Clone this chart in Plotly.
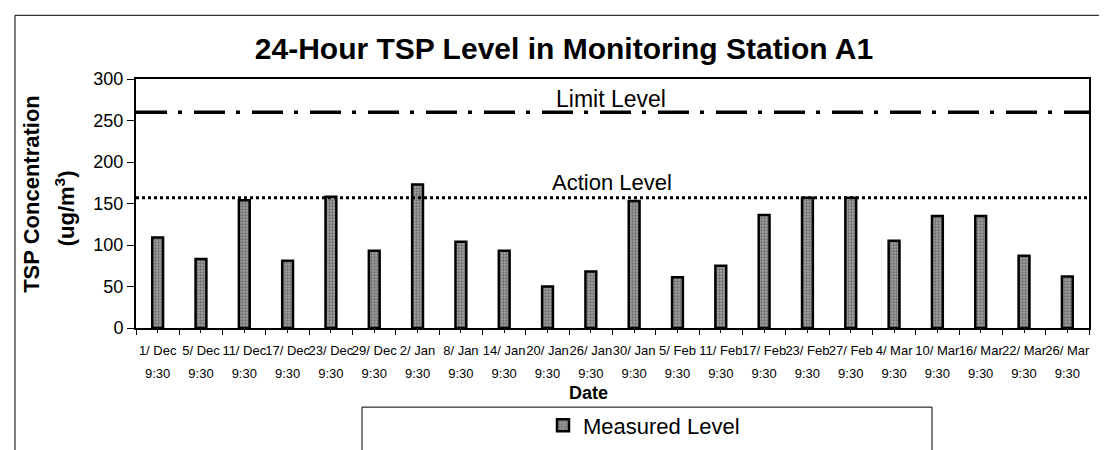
import plotly.graph_objects as go

dates = ["1/ Dec", "5/ Dec", "11/ Dec", "17/ Dec", "23/ Dec", "29/ Dec", "2/ Jan", "8/ Jan",
         "14/ Jan", "20/ Jan", "26/ Jan", "30/ Jan", "5/ Feb", "11/ Feb", "17/ Feb", "23/ Feb",
         "27/ Feb", "4/ Mar", "10/ Mar", "16/ Mar", "22/ Mar", "26/ Mar"]
time_label = "9:30"
measured = [109, 83, 154, 81, 158, 93, 173, 104, 93, 50, 68, 153, 61, 75, 136, 157, 157, 105, 135, 135, 87, 62]
limit_level = 260
action_level = 157
y_ticks = [0, 50, 100, 150, 200, 250, 300]

FONT = "Liberation Sans, Arial, sans-serif"
W, H = 1107, 450
L, R, T, B = 128, 1081, 71, 329


def px(x):
    return (x - L) / (R - L)


def py(y):
    return (B - y) / (B - T)


x_range = [-0.5, len(dates) - 0.5]

fig = go.Figure()
fig.add_trace(go.Bar(
    x=dates, y=measured, name="Measured Level",
    marker=dict(color="#a0a0a0", line=dict(color="black", width=2.5),
                pattern=dict(shape=".", fgcolor="#3a3a3a", size=3, solidity=0.45)),
))
# invisible companion trace so the second (time-of-day) x axis is drawn
fig.add_trace(go.Scatter(x=dates, y=measured, xaxis="x2", mode="markers",
                         marker=dict(opacity=0), showlegend=False, hoverinfo="skip"))

fig.add_shape(type="line", xref="paper", x0=0, x1=1, yref="y", y0=limit_level, y1=limit_level,
              line=dict(color="black", width=3.5, dash="31px,11px,4px,12px"))
fig.add_shape(type="line", xref="paper", x0=0, x1=1, yref="y", y0=action_level, y1=action_level,
              line=dict(color="black", width=3, dash="3px,3px"))

fig.add_annotation(text="Limit Level", xref="paper", x=px(546), xanchor="left", yref="paper", y=py(92),
                   yanchor="middle", showarrow=False, font=dict(size=23, family=FONT, color="black"))
fig.add_annotation(text="Action Level", xref="paper", x=px(542), xanchor="left", yref="paper", y=py(178),
                   yanchor="middle", showarrow=False, font=dict(size=22, family=FONT, color="black"))

# y-axis title (two lines, wide spacing as in the reference)
fig.add_annotation(text="<b>TSP Concentration</b>", xref="paper", x=px(24), yref="paper", y=py(190),
                   textangle=-90, showarrow=False, xanchor="center", yanchor="middle",
                   font=dict(size=22, family=FONT, color="black"))
fig.add_annotation(text="<b>(ug/m<sup>3</sup>)</b>", xref="paper", x=px(57), yref="paper", y=py(205),
                   textangle=-90, showarrow=False, xanchor="center", yanchor="middle",
                   font=dict(size=22, family=FONT, color="black"))
# x-axis title
fig.add_annotation(text="<b>Date</b>", xref="paper", x=px(580), yref="paper", y=py(396),
                   showarrow=False, xanchor="center", yanchor="middle",
                   font=dict(size=18, family=FONT, color="black"))

# legend box and outer frame
fig.add_shape(type="rect", xref="paper", yref="paper", x0=px(354), x1=px(924), y0=py(470), y1=py(411),
              line=dict(color="black", width=1), fillcolor="white", layer="below")
fig.add_shape(type="line", xref="paper", yref="paper", x0=px(7), x1=px(1110), y0=py(5), y1=py(5),
              line=dict(color="black", width=1))
fig.add_shape(type="line", xref="paper", yref="paper", x0=px(7), x1=px(7), y0=py(5), y1=py(460),
              line=dict(color="black", width=1))

fig.update_layout(
    width=W, height=H,
    margin=dict(l=L, r=W - R, t=T, b=H - B),
    paper_bgcolor="white", plot_bgcolor="white",
    font=dict(family=FONT, color="black", size=13),
    title=dict(text="<b>24-Hour TSP Level in Monitoring Station A1</b>", x=px(556), xanchor="center",
               xref="paper", y=1 - 40 / H, yanchor="middle", font=dict(size=30, family=FONT, color="black")),
    bargap=0.75,
    showlegend=True,
    legend=dict(x=px(636), y=py(430), xanchor="center", yanchor="middle", orientation="h",
                font=dict(size=22, family=FONT), bgcolor="rgba(0,0,0,0)", itemwidth=30),
    xaxis=dict(type="category", range=x_range, categoryorder="array", categoryarray=dates,
               showline=True, linecolor="black", linewidth=2, mirror=True, ticks="outside",
               tickson="boundaries", ticklen=5, tickcolor="black", tickangle=0,
               ticklabelstandoff=9, tickfont=dict(size=13, family=FONT)),
    xaxis2=dict(type="category", range=x_range, categoryorder="array", categoryarray=dates,
                overlaying="x", anchor="y", side="bottom", showline=False,
                ticks="outside", ticklen=4, tickcolor="black", tickangle=0,
                tickmode="array", tickvals=dates, ticktext=[time_label] * len(dates),
                ticklabelstandoff=29, tickfont=dict(size=13, family=FONT), showgrid=False),
    yaxis=dict(range=[0, 300], tickvals=y_ticks, showline=True, linecolor="black", linewidth=2,
               mirror=True, ticks="outside", ticklen=7, tickcolor="black", showgrid=False,
               zeroline=False, tickfont=dict(size=18, family=FONT)),
)

fig.write_html("out.html")
